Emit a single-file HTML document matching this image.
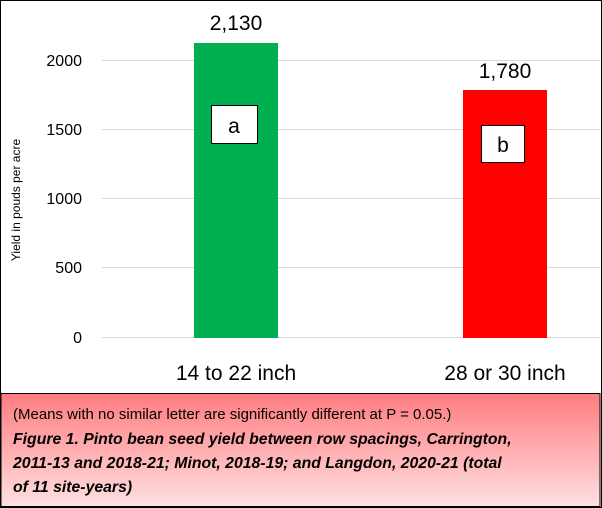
<!DOCTYPE html>
<html><head><meta charset="utf-8"><style>
body{margin:0;width:602px;height:508px;overflow:hidden;background:#fff;font-family:"Liberation Sans",sans-serif}
</style></head><body>
<svg width="602" height="508" xmlns="http://www.w3.org/2000/svg" style="position:absolute;left:0;top:0">
<defs><linearGradient id="g" x1="0" y1="0" x2="0" y2="1"><stop offset="0" stop-color="#ff7c80"/><stop offset="1" stop-color="#ffe0e1"/></linearGradient></defs>
<rect x="0" y="0" width="602" height="508" fill="#fff"/>
<g stroke="#d9d9d9" stroke-width="1">
<line x1="102" y1="60.5" x2="600" y2="60.5"/><line x1="102" y1="129.5" x2="600" y2="129.5"/>
<line x1="102" y1="198.5" x2="600" y2="198.5"/><line x1="102" y1="267.5" x2="600" y2="267.5"/>
<line x1="102" y1="337.5" x2="600" y2="337.5"/></g>
<g font-size="16" fill="#000" text-anchor="end">
<text x="82" y="66">2000</text><text x="82" y="135">1500</text><text x="82" y="204">1000</text><text x="82" y="273">500</text><text x="82" y="343">0</text></g>
<text transform="translate(20,200) rotate(-90)" font-size="12" text-anchor="middle">Yield in pouds per acre</text>
<rect x="194" y="43" width="84" height="295" fill="#00b050"/>
<rect x="463" y="90" width="84" height="248" fill="#ff0000"/>
<text x="236" y="30" font-size="21" text-anchor="middle">2,130</text>
<text x="505" y="78" font-size="21" text-anchor="middle">1,780</text>
<rect x="211.5" y="105.5" width="46" height="38" fill="#fff" stroke="#000"/>
<text x="234" y="133" font-size="21" text-anchor="middle">a</text>
<rect x="481.5" y="125.5" width="43" height="37" fill="#fff" stroke="#000"/>
<text x="503" y="152" font-size="21" text-anchor="middle">b</text>
<text x="236" y="380" font-size="21" text-anchor="middle">14 to 22 inch</text>
<text x="505" y="380" font-size="21" text-anchor="middle">28 or 30 inch</text>
<rect x="1" y="393.5" width="599" height="113" fill="url(#g)" stroke="#000"/>
<text x="13" y="419" font-size="15">(Means with no similar letter are significantly different at P = 0.05.)</text>
<g font-size="15.8" font-weight="bold" font-style="italic">
<text x="13" y="444">Figure 1. Pinto bean seed yield between row spacings, Carrington,</text>
<text x="13" y="468">2011-13 and 2018-21; Minot, 2018-19; and Langdon, 2020-21 (total</text>
<text x="13" y="492">of 11 site-years)</text></g>
<rect x="0.5" y="0.5" width="601" height="507" fill="none" stroke="#000"/>
</svg>
</body></html>
